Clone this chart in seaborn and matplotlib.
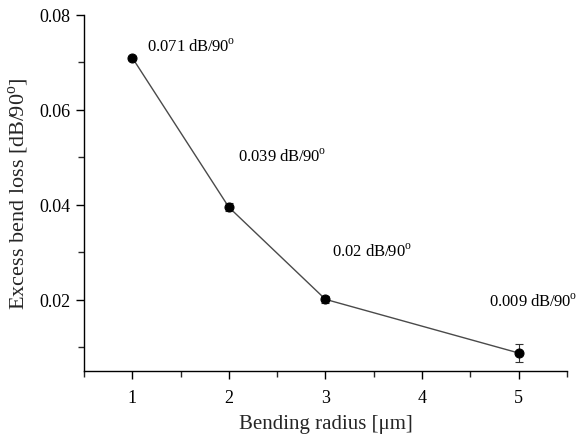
import numpy as np
import pandas as pd
import matplotlib
matplotlib.use("Agg")
import matplotlib.pyplot as plt
from matplotlib.ticker import MultipleLocator
import seaborn as sns

# data
radius = [1, 2, 3, 5]
loss = [0.071, 0.0395, 0.0201, 0.0088]
loss_err = [0.0004, 0.0008, 0.0007, 0.0019]
labels = ["0.071", "0.039", "0.02", "0.009"]
label_x = [1.15, 2.09, 3.07, 4.69]
label_y = [0.0735, 0.0503, 0.0303, 0.0197]

sns.set_style("ticks")
plt.rcParams["font.family"] = ["Liberation Serif", "DejaVu Serif"]
plt.rcParams["mathtext.fontset"] = "custom"
plt.rcParams["mathtext.rm"] = "Liberation Serif"

df = pd.DataFrame({"radius": radius, "loss": loss})

fig = plt.figure(figsize=(5.82, 4.39), dpi=100)
ax = fig.add_axes([0.1443, 0.1526, 0.8297, 0.811])

ax.errorbar(radius, loss, yerr=loss_err, fmt="none", ecolor="#333333",
            elinewidth=0.8, capsize=3, capthick=0.8, zorder=2)
sns.lineplot(data=df, x="radius", y="loss", ax=ax, color="#4a4a4a",
             linewidth=1.0, marker="o", markersize=6.5,
             markerfacecolor="black", markeredgecolor="black", zorder=3)

for lx, ly, lab in zip(label_x, label_y, labels):
    ax.text(lx, ly, lab + r" dB/90$^{\rm o}$", fontsize=12, ha="left",
            va="center", color="black")

ax.set_xlim(0.5, 5.5)
ax.set_ylim(0.005, 0.08)
ax.xaxis.set_minor_locator(MultipleLocator(0.5))
ax.yaxis.set_minor_locator(MultipleLocator(0.01))
ax.set_xticks([1, 2, 3, 4, 5])
ax.set_yticks([0.02, 0.04, 0.06, 0.08])
ax.set_yticklabels(["0.02", "0.04", "0.06", "0.08"])

ax.tick_params(which="major", direction="out", length=6, width=1.0,
               labelsize=13, colors="black")
ax.tick_params(which="minor", direction="out", length=4, width=1.0)
ax.tick_params(axis="x", pad=7)

sns.despine(ax=ax)
for s in ["left", "bottom"]:
    ax.spines[s].set_linewidth(1.0)
    ax.spines[s].set_color("black")

ax.set_xlabel("Bending radius [μm]", fontsize=15, labelpad=6)
ax.set_ylabel(r"Excess bend loss [dB/90$^{\rm o}$]", fontsize=16, labelpad=6)

fig.savefig("out.png", dpi=100)
